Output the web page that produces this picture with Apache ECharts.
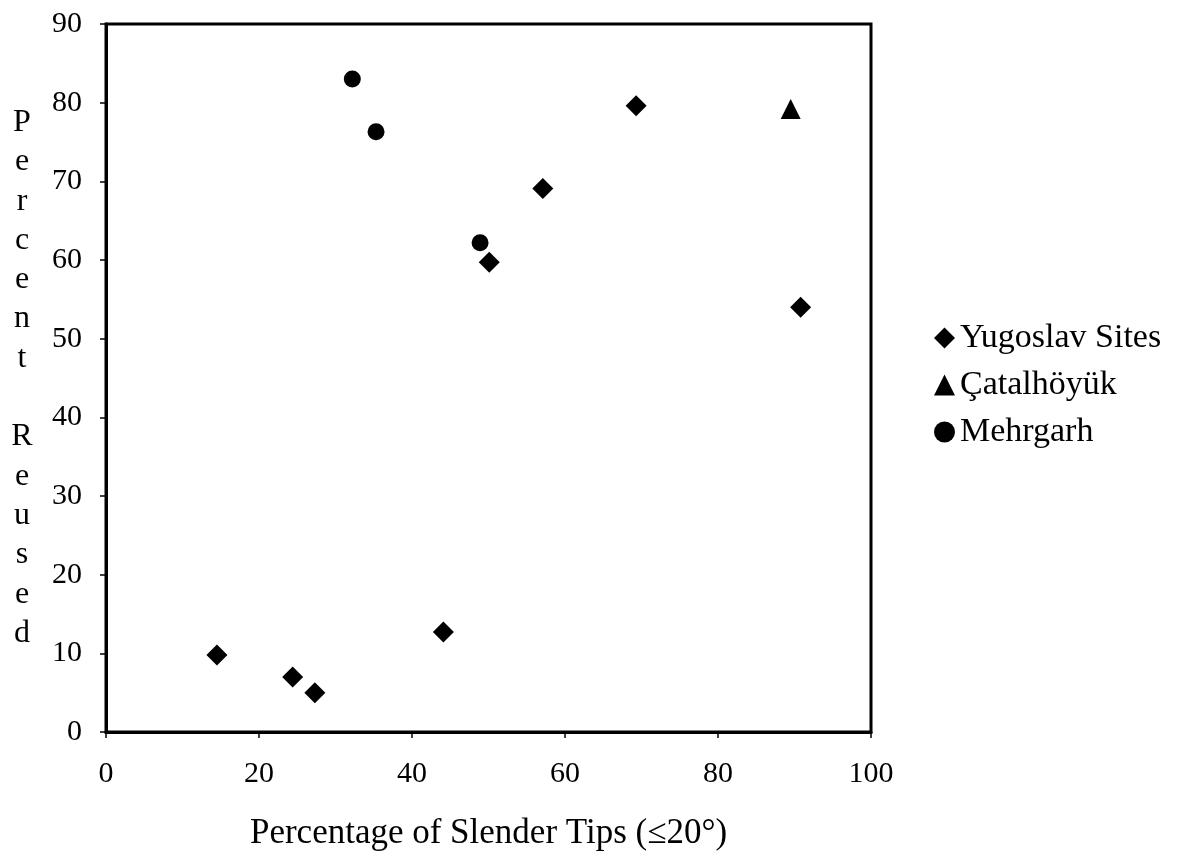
<!DOCTYPE html>
<html>
<head>
<meta charset="utf-8">
<script src="https://cdn.jsdelivr.net/npm/echarts@6/dist/echarts.min.js"></script>
<style>
  html, body { margin: 0; padding: 0; background: #fff; }
  #chart { width: 1195px; height: 855px; }
</style>
</head>
<body>
<div id="chart"></div>
<script>
// data: [slender tips %, percent reused]
var yugoslav = [[14.5, 9.8], [24.4, 7.0], [27.3, 5.0], [44.1, 12.7], [50.1, 59.7],
                [57.1, 69.1], [69.3, 79.6], [90.8, 54.0]];
var catalhoyuk = [[89.5, 79.2]];
var mehrgarh = [[32.2, 83.0], [35.3, 76.3], [48.9, 62.2]];
var seriesNames = ['Yugoslav Sites', 'Çatalhöyük', 'Mehrgarh'];

var serif = '"Liberation Serif", "DejaVu Serif", serif';
var myChart = echarts.init(document.getElementById('chart'));

var option = {
    backgroundColor: '#fff',
    animation: false,
    textStyle: { fontFamily: serif, color: '#000' },
    legend: {
        orient: 'vertical',
        left: 929,
        top: 316,
        itemGap: 13,
        itemWidth: 21,
        itemHeight: 21,
        textStyle: { fontFamily: serif, fontSize: 34, color: '#000' },
        data: [
            { name: seriesNames[0], icon: 'diamond' },
            { name: seriesNames[1], icon: 'triangle' },
            { name: seriesNames[2], icon: 'circle' }
        ]
    },
    grid: {
        left: 106,
        top: 24,
        right: 324,
        bottom: 123,
        outerBoundsMode: 'none',
        show: true,
        borderColor: '#000',
        borderWidth: 3
    },
    xAxis: {
        type: 'value',
        min: 0,
        max: 100,
        interval: 20,
        name: 'Percentage of Slender Tips (≤20°)',
        nameLocation: 'middle',
        nameGap: 84,
        nameTextStyle: { fontFamily: serif, fontSize: 35, color: '#000' },
        axisLine: { show: true, lineStyle: { color: '#000', width: 3 } },
        axisTick: { show: true, length: 6, lineStyle: { color: '#000', width: 1.5 } },
        axisLabel: { fontFamily: serif, fontSize: 30, color: '#000', margin: 27 },
        splitLine: { show: false }
    },
    yAxis: {
        type: 'value',
        min: 0,
        max: 90,
        interval: 10,
        name: 'P\ne\nr\nc\ne\nn\nt\n\nR\ne\nu\ns\ne\nd',
        nameLocation: 'middle',
        nameRotate: 0,
        nameGap: 84,
        nameTextStyle: { fontFamily: serif, fontSize: 32, color: '#000', lineHeight: 39.3, align: 'center' },
        axisLine: { show: true, lineStyle: { color: '#000', width: 3 } },
        axisTick: { show: true, length: 6, lineStyle: { color: '#000', width: 1.5 } },
        axisLabel: { fontFamily: serif, fontSize: 30, color: '#000', margin: 24 },
        splitLine: { show: false }
    },
    series: [
        {
            name: seriesNames[0],
            type: 'scatter',
            symbol: 'diamond',
            symbolSize: 21,
            itemStyle: { color: '#000', opacity: 1 },
            data: yugoslav
        },
        {
            name: seriesNames[1],
            type: 'scatter',
            symbol: 'triangle',
            symbolSize: 20,
            itemStyle: { color: '#000', opacity: 1 },
            data: catalhoyuk
        },
        {
            name: seriesNames[2],
            type: 'scatter',
            symbol: 'circle',
            symbolSize: 17,
            itemStyle: { color: '#000', opacity: 1 },
            data: mehrgarh
        }
    ]
};

myChart.setOption(option);
</script>
</body>
</html>
